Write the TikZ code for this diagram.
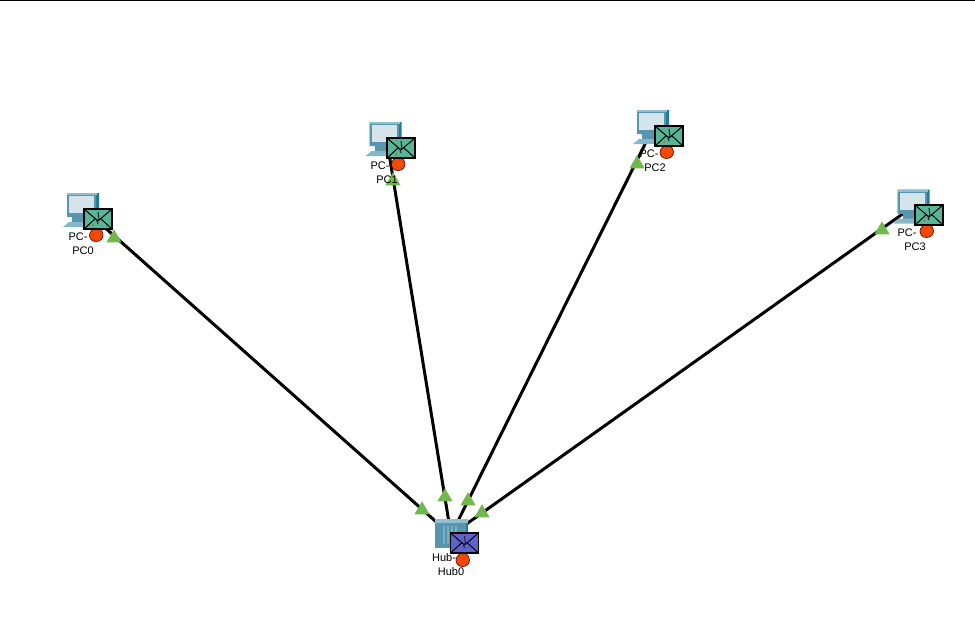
\documentclass[tikz,border=0pt]{standalone}
\usepackage{fontspec}
\setmainfont{Liberation Sans}
\usetikzlibrary{shapes.geometric}
\definecolor{bodyteal}{HTML}{5796AE}
\definecolor{darkteal}{HTML}{1E7C96}
\definecolor{lightteal}{HTML}{8FC0CF}
\definecolor{screenblue}{HTML}{D5E4EB}
\definecolor{mailgreen}{HTML}{57B598}
\definecolor{mailblue}{HTML}{5F63C9}
\definecolor{lightgreen}{HTML}{70B84C}
\definecolor{fireorange}{HTML}{F24A05}
\tikzset{
  pccomp/.pic={
    \fill[darkteal] (-17,-16) -- (-14,-16) -- (15,-16) -- (15,6) -- (12,8) -- (-17,8) -- cycle;
    \fill[lightteal] (-17,-16) rectangle (13,-14);
    \fill[bodyteal] (-17,-14) rectangle (12,8);
    \fill[screenblue] (-15,-13) rectangle (10,4);
    \fill[bodyteal] (-12,8) rectangle (6,13);
    \fill[lightteal!80!bodyteal] (-21,18) -- (-15,13) -- (10,13) -- (8,18) -- cycle;
  },
  hubbox/.pic={
    \fill[darkteal] (-16,-16) rectangle (17,13);
    \fill[lightteal] (-16,-16) rectangle (17,-12);
    \fill[bodyteal] (-16,-12) rectangle (15,13);
    \foreach \sx in {-8,-4,0,4}
      \fill[lightteal!60!bodyteal] (\sx,-9) rectangle ++(1.5,18);
  },
  mailicon/.pic={
    \draw[line width=1.5pt, fill=#1] (-14,-10) rectangle (14,10);
    \draw[line width=1pt] (-14,-10) -- (0,2) -- (14,-10) (-14,10) -- (-3,0) (14,10) -- (3,0);
    \draw[line width=1.1pt, black!85] (0,-7) -- (1,0) -- (-1,2) -- (0,5);
    \fill[fireorange] (-5,6) circle (1);
  },
  fireicon/.pic={
    \draw[line width=0.6pt, fill=fireorange, draw=black!70!red]
      (0,-8) .. controls (2,-6) and (7,-4) .. (7,1)
      .. controls (7,5) and (4,7.5) .. (0,7.5)
      .. controls (-4,7.5) and (-6.5,5) .. (-6.5,1)
      .. controls (-6.5,-3) and (-2,-5) .. (0,-8) -- cycle;
  },
  dev/.style={minimum size=2pt, inner sep=0pt},
  devname/.style={font=\fontsize{11}{13}\selectfont, text=black, inner sep=0pt},
  netlink/.style={line width=3pt, black},
  lamp/.style={regular polygon, regular polygon sides=3, fill=lightgreen,
               minimum size=17.5pt, inner sep=0pt},
}
\begin{document}
\begin{tikzpicture}[x=1pt, y=-1pt]
    \useasboundingbox (0,0) rectangle (975,619);
    \fill[white] (0,0) rectangle (975,619);
    \draw[line width=1pt] (0,0.5) -- (975,0.5);

    \node[dev] (pc0) at (84,209) {};
    \node[dev] (pc1) at (386.5,138) {};
    \node[dev] (pc2) at (654,126) {};
    \node[dev] (pc3) at (914.5,205.5) {};
    \node[dev] (hub0) at (451,535) {};

    % host names sit under the links
    \node[devname] (pc0name) at (78,237) {PC-};
    \node[devname] (pc1name) at (380,166) {PC-};
    \node[devname] (pc2name) at (649,154) {PC-};
    \node[devname] (pc3name) at (907,233) {PC-};
    \node[devname] (hubname) at (444,558) {Hub-};

    \draw[netlink] (pc0.center) -- (hub0.center);
    \draw[netlink] (pc1.center) -- (hub0.center);
    \draw[netlink] (pc2.center) -- (hub0.center);
    \draw[netlink] (pc3.center) -- (hub0.center);

    % link lights
    \node[lamp] (lamp0) at (114,238) {};
    \node[lamp] (lamp1) at (393,181) {};
    \node[lamp] (lamp2) at (637,164) {};
    \node[lamp] (lamp3) at (882,230) {};
    \node[lamp] (lamp4) at (422,510) {};
    \node[lamp] (lamp5) at (445,497) {};
    \node[lamp] (lamp6) at (468,501) {};
    \node[lamp] (lamp7) at (482,513) {};

    \pic at (pc0) {pccomp};
    \pic at (pc1) {pccomp};
    \pic at (pc2) {pccomp};
    \pic at (pc3) {pccomp};
    \pic at (hub0) {hubbox};

    \node[devname] (pc0label) at (83,251) {PC0};
    \node[devname] (pc1label) at (387,180) {PC1};
    \node[devname] (pc2label) at (655,168) {PC2};
    \node[devname] (pc3label) at (915,247) {PC3};
    \node[devname] (hublabel) at (451,572) {Hub0};

    % packets on top
    \pic at (96,234) {fireicon};
    \pic at (398,163) {fireicon};
    \pic at (666.5,151) {fireicon};
    \pic at (926.5,230) {fireicon};
    \pic at (462.5,559) {fireicon};
    \pic at (98,219) {mailicon=mailgreen};
    \pic at (401,148) {mailicon=mailgreen};
    \pic at (669,136) {mailicon=mailgreen};
    \pic at (929,215) {mailicon=mailgreen};
    \pic at (464.5,543) {mailicon=mailblue};
\end{tikzpicture}
\end{document}
